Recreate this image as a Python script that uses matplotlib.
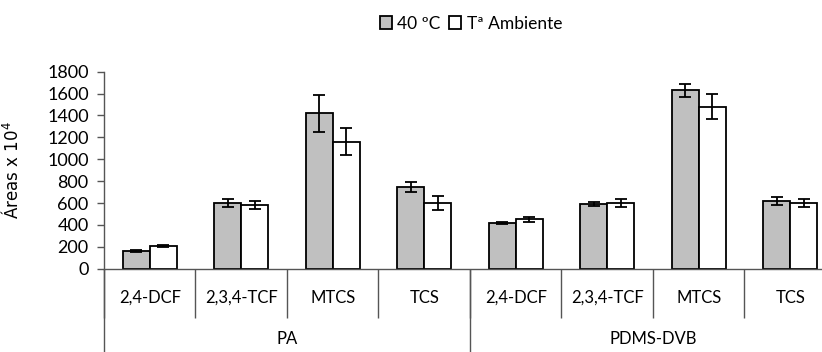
import matplotlib
matplotlib.use("Agg")
import matplotlib.pyplot as plt
import numpy as np

# data
groups = ["PA", "PDMS-DVB"]
compounds = ["2,4-DCF", "2,3,4-TCF", "MTCS", "TCS"]
series_names = ["40 ºC", "Tª Ambiente"]

vals_40 = [160, 600, 1420, 745, 420, 590, 1630, 620]
err_40 = [10, 35, 170, 45, 8, 16, 60, 38]
vals_amb = [205, 585, 1160, 600, 450, 600, 1480, 600]
err_amb = [10, 35, 125, 65, 25, 38, 115, 38]

plt.rcParams['font.family'] = ['Lato', 'DejaVu Sans']

fig = plt.figure(figsize=(8.22, 3.52), dpi=100)
ax = fig.add_axes([0.1265, 0.2366, 0.8905, 0.5597])

n = len(vals_40)
x = np.arange(n)
w = 0.295

ekw = dict(elinewidth=1.3, capthick=1.3, ecolor="black")
ax.bar(x - w / 2, vals_40, w, yerr=err_40, color="#C0C0C0", edgecolor="black",
       linewidth=1.3, capsize=4.3, error_kw=ekw, label=series_names[0], zorder=2)
ax.bar(x + w / 2, vals_amb, w, yerr=err_amb, color="white", edgecolor="black",
       linewidth=1.3, capsize=4.3, error_kw=ekw, label=series_names[1], zorder=2)

ax.set_xlim(-0.5, n - 0.5)
ax.set_ylim(0, 1800)
ax.set_yticks(np.arange(0, 1801, 200))
ax.tick_params(axis="y", labelsize=13, length=5, width=1, color="#555555", pad=6)
ax.set_ylabel("Áreas x 10$^4$", fontsize=12, labelpad=18, family="DejaVu Sans")

for s in ["top", "right"]:
    ax.spines[s].set_visible(False)
for s in ["left", "bottom"]:
    ax.spines[s].set_color("#555555")
    ax.spines[s].set_linewidth(1)

# compound labels and separators
ax.set_xticks(x)
ax.set_xticklabels(compounds * len(groups), fontsize=12)
ax.set_xticks(np.arange(n + 1) - 0.5, minor=True)
ax.tick_params(axis="x", which="major", length=0, pad=15)
ax.tick_params(axis="x", which="minor", length=35, width=1, color="#555555")

# group labels
sec = ax.secondary_xaxis(location=0)
ng = len(compounds)
sec.set_xticks([ng * i + (ng - 1) / 2 for i in range(len(groups))])
sec.set_xticklabels(groups, fontsize=12)
sec.set_xticks([ng * i - 0.5 for i in range(len(groups) + 1)], minor=True)
sec.tick_params(axis="x", which="major", length=0, pad=45)
sec.tick_params(axis="x", which="minor", length=62, width=1, color="#555555")
sec.spines["bottom"].set_visible(False)

fig.legend(loc="upper center", bbox_to_anchor=(0.573, 1.0), ncol=2, frameon=False,
           fontsize=12.5, handlelength=0.7, handleheight=0.7, handletextpad=0.3,
           columnspacing=0.5)

fig.savefig("out.png", dpi=100)
